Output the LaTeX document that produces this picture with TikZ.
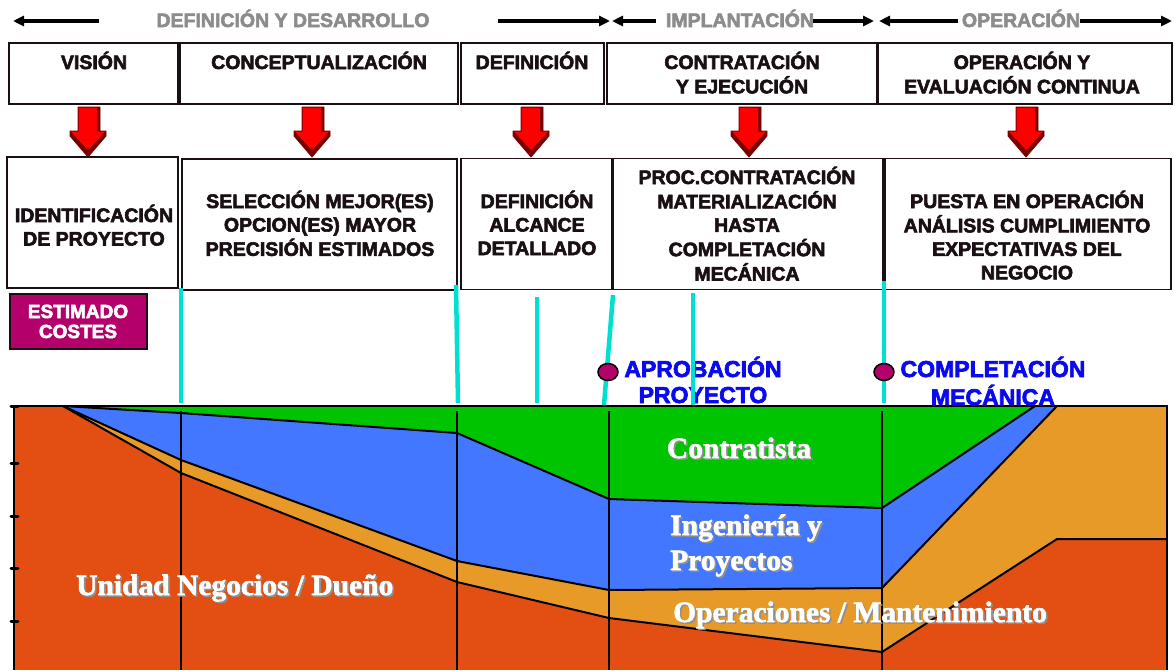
\documentclass[tikz,border=0pt]{standalone}
\usepackage{fontspec}
\setmainfont{Liberation Sans}[BoldFeatures={FakeBold=3}]
\newfontfamily\serifb{Liberation Serif}[BoldFeatures={FakeBold=2}]
\usetikzlibrary{arrows.meta,shapes.geometric}
\definecolor{hdrgray}{HTML}{8C8C8C}
\definecolor{duenio}{HTML}{E34F12}
\definecolor{opm}{HTML}{E89A28}
\definecolor{ingb}{HTML}{4477FF}
\definecolor{contg}{HTML}{00C400}
\definecolor{magent}{HTML}{B3006B}
\definecolor{cyanl}{HTML}{00E0D0}
\definecolor{bluet}{HTML}{0A0AF0}
\definecolor{arrred}{HTML}{FF0000}
\definecolor{arrdark}{HTML}{7A0000}
\definecolor{boxline}{HTML}{1A0F14}
\definecolor{shgray}{HTML}{909090}
\newcommand\mlines[1]{\begin{tabular}[t]{@{}c@{}}#1\end{tabular}}
\newcommand\llines[1]{\begin{tabular}[t]{@{}l@{}}#1\end{tabular}}
\newcommand\shtx[1]{\leavevmode\rlap{\kern1.6pt\raisebox{-1.6pt}{\textcolor{shgray}{#1}}}#1}
\begin{document}
\begin{tikzpicture}[x=1pt,y=-1pt,
 hdrtext/.style={font=\fontsize{19.5}{23.5}\selectfont\bfseries,text=hdrgray,inner sep=0pt,anchor=base},
 hdrarrow/.style={line width=3.5pt,-{Triangle[length=11pt,width=10pt]},draw=black},
 phasebox/.style={draw=boxline,line width=2pt,minimum height=61pt,inner sep=0pt},
 stepbox/.style={draw=boxline,line width=1.6pt,minimum height=131pt,inner sep=0pt,fill=white},
 boxtext/.style={font=\fontsize{19.5}{23.5}\selectfont\bfseries,text=boxline,inner sep=0pt,anchor=base},
 costbox/.style={draw=boxline,line width=1.6pt,fill=magent,minimum width=137pt,minimum height=55pt,inner sep=0pt},
 costtext/.style={font=\fontsize{19}{20}\selectfont\bfseries,text=white,inner sep=0pt,anchor=base},
 bluelabel/.style={font=\fontsize{23}{26}\selectfont\bfseries,text=bluet,inner sep=0pt,anchor=base},
 milestone/.style={ellipse,draw=black,line width=1.5pt,fill=magent,minimum width=20pt,minimum height=17pt,inner sep=0pt},
 cyanline/.style={draw=cyanl,line width=4.5pt},
 chartlabel/.style={font=\serifb\fontsize{29.5}{35}\selectfont\bfseries,text=white,inner sep=0pt,anchor=base west},
 bound/.style={draw=black,line width=2pt,line join=round},
 phaseline/.style={draw=black,line width=1.5pt}
]
\useasboundingbox (0,0) rectangle (1175,670);

% ---------- header ----------
\node[hdrtext] (hdr1) at (293,27) {DEFINICIÓN Y DESARROLLO};
\node[hdrtext] (hdr2) at (740,27) {IMPLANTACIÓN};
\node[hdrtext] (hdr3) at (1021,27) {OPERACIÓN};
\coordinate (a1s) at (99,21);   \coordinate (a1e) at (13,21);
\coordinate (a2s) at (498,21);  \coordinate (a2e) at (610,21);
\coordinate (a3s) at (656,21);  \coordinate (a3e) at (612,21);
\coordinate (a4s) at (813,21);  \coordinate (a4e) at (874,21);
\coordinate (a5s) at (958,21);  \coordinate (a5e) at (879,21);
\coordinate (a6s) at (1080,21); \coordinate (a6e) at (1172,21);
\foreach \s/\e in {a1s/a1e,a2s/a2e,a3s/a3e,a4s/a4e,a5s/a5e,a6s/a6e}
  \draw[hdrarrow] (\s) -- (\e);

% ---------- phase boxes ----------
\node[phasebox,minimum width=169pt] (p1) at (93.5,73.5) {};
\node[phasebox,minimum width=278pt] (p2) at (319,73.5) {};
\node[phasebox,minimum width=143pt] (p3) at (532.5,73.5) {};
\node[phasebox,minimum width=270pt] (p4) at (742,73.5) {};
\node[phasebox,minimum width=294pt] (p5) at (1025,73.5) {};
\node[boxtext] (pt1) at (94,69) {VISIÓN};
\node[boxtext] (pt2) at (319,69) {CONCEPTUALIZACIÓN};
\node[boxtext] (pt3) at (532,69) {DEFINICIÓN};
\node[boxtext] (pt4) at (742,69) {\mlines{CONTRATACIÓN\\Y EJECUCIÓN}};
\node[boxtext] (pt5) at (1022,69) {\mlines{OPERACIÓN Y\\EVALUACIÓN CONTINUA}};

% ---------- red arrows ----------
\foreach \cx in {88,312,531,749,1026}{
  \filldraw[fill=arrdark,draw=arrdark,line width=0.8pt,line join=round]
    (\cx-10,107) -- (\cx+12,107) -- (\cx+12,131) -- (\cx+18,131) -- (\cx+18,136)
    -- (\cx,157) -- (\cx-18,136) -- (\cx-18,131) -- (\cx-10,131) -- cycle;
  \fill[arrred] (\cx-9.5,107.8) -- (\cx+9,107.8) -- (\cx+9,131.5) -- (\cx+17,131.5)
    -- (\cx,150) -- (\cx-17,131.5) -- (\cx-9.5,131.5) -- cycle;
}

% ---------- step boxes ----------
\node[stepbox,minimum width=171pt] (s1) at (92.5,222.5) {};
\node[stepbox,minimum width=275pt] (s2) at (319.5,224.5) {};
\node[stepbox,minimum width=151pt] (s3) at (536.5,224) {};
\node[stepbox,minimum width=270pt] (s4) at (748,224) {};
\node[stepbox,minimum width=286pt] (s5) at (1028,224) {};
\node[boxtext] (st1) at (94,222) {\mlines{IDENTIFICACIÓN\\DE PROYECTO}};
\node[boxtext] (st2) at (320,208) {\mlines{SELECCIÓN MEJOR(ES)\\OPCION(ES) MAYOR\\PRECISIÓN ESTIMADOS}};
\node[boxtext] (st3) at (537,208) {\mlines{DEFINICIÓN\\ALCANCE\\DETALLADO}};
\node[boxtext] (st4) at (747,184) {\mlines{PROC.CONTRATACIÓN\\MATERIALIZACIÓN\\HASTA\\COMPLETACIÓN\\MECÁNICA}};
\node[boxtext] (st5) at (1027,208) {\mlines{PUESTA EN OPERACIÓN\\ANÁLISIS CUMPLIMIENTO\\EXPECTATIVAS DEL\\NEGOCIO}};

% ---------- cost box ----------
\node[costbox] (cost) at (78.5,321.5) {};
\node[costtext] (costt) at (78,318) {\mlines{ESTIMADO\\COSTES}};

% ---------- chart ----------
\fill[duenio] (14,406) rectangle (1167,670);
\fill[opm] (63,406) -- (181,473) -- (457,582) -- (609,618) -- (882,652) -- (1057,539) -- (1167,539) -- (1167,406) -- cycle;
\fill[ingb] (63,406) -- (181,460) -- (457,561) -- (609,590) -- (882,588) -- (1057,406) -- cycle;
\fill[contg] (63,406) -- (181,413) -- (457,433) -- (609,499) -- (882,508) -- (1035,406) -- cycle;
\draw[bound] (63,406) -- (181,473) -- (457,582) -- (609,618) -- (882,652) -- (1057,539) -- (1167,539);
\draw[bound] (63,406) -- (181,460) -- (457,561) -- (609,590) -- (882,588) -- (1057,406);
\draw[bound] (63,406) -- (181,413) -- (457,433) -- (609,499) -- (882,508) -- (1035,406);
\foreach \vx in {181,457,609,882}
  \draw[phaseline] (\vx,411) -- (\vx,670);
\draw[line width=2pt] (14,406) -- (1167,406) -- (1167,670);
\draw[line width=2.5pt] (14,406) -- (14,670);
\foreach \ty in {406,463,516,568,621}
  \draw[line width=3pt,line cap=round] (11,\ty) -- (18,\ty);

\node[chartlabel,anchor=base] (lc) at (739,458) {\shtx{Contratista}};
\node[chartlabel] (li) at (670,535) {\llines{\shtx{Ingeniería y}\\\shtx{Proyectos}}};
\node[chartlabel] (lo) at (673,622) {\shtx{Operaciones / Mantenimiento}};
\node[chartlabel] (lu) at (76,595) {\shtx{Unidad Negocios / Dueño}};

% ---------- milestones ----------
\node[bluelabel] (ap) at (703,377) {\mlines{APROBACIÓN\\PROYECTO}};
\node[bluelabel] (cm) at (993,377) {\mlines{COMPLETACIÓN\\MECÁNICA}};

\draw[cyanline] (181,288) -- (181,403);
\draw[cyanline] (456,285) -- (458,403);
\draw[cyanline] (537,297) -- (537,403);
\draw[cyanline] (613,295) -- (604,405);
\draw[cyanline] (693,293) -- (693,405);
\draw[cyanline] (884,281) -- (884,403);

\node[milestone] (m1) at (608,372) {};
\node[milestone] (m2) at (884,372) {};
\end{tikzpicture}
\end{document}
